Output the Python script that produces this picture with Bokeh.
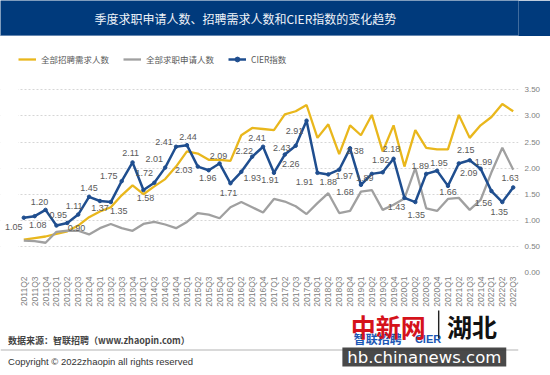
import math
from bokeh.plotting import figure
from bokeh.models import (ColumnDataSource, Range1d, LinearAxis, FixedTicker,
                          NumeralTickFormatter, Legend, LegendItem, BoxAnnotation, Grid)
from bokeh.layouts import column
from bokeh.embed import file_html
from bokeh.resources import INLINE
from bokeh.core.properties import value

# ---------------- data ----------------
TITLE = "季度求职申请人数、招聘需求人数和CIER指数的变化趋势"
SERIES_NAMES = ["全部招聘需求人数", "全部求职申请人数", "CIER指数"]

QUARTERS = [
    "2011Q2", "2011Q3", "2011Q4",
    "2012Q1", "2012Q2", "2012Q3", "2012Q4",
    "2013Q1", "2013Q2", "2013Q3", "2013Q4",
    "2014Q1", "2014Q2", "2014Q3", "2014Q4",
    "2015Q1", "2015Q2", "2015Q3", "2015Q4",
    "2016Q1", "2016Q2", "2016Q3", "2016Q4",
    "2017Q1", "2017Q2", "2017Q3", "2017Q4",
    "2018Q1", "2018Q2", "2018Q3", "2018Q4",
    "2019Q1", "2019Q2", "2019Q3", "2019Q4",
    "2020Q1", "2020Q2", "2020Q3", "2020Q4",
    "2021Q1", "2021Q2", "2021Q3", "2021Q4",
    "2022Q1", "2022Q2", "2022Q3",
]

CIER = [1.05, 1.08, 1.20, 0.90, 0.95, 1.11, 1.45, 1.37, 1.35, 1.75, 2.11, 1.58,
        1.72, 2.01, 2.41, 2.44, 2.03, 1.96, 2.09, 1.71, 1.93, 2.22, 2.41, 1.91,
        2.26, 2.43, 2.91, 1.91, 1.88, 1.97, 2.38, 1.68, 1.89, 1.92, 2.18, 1.43,
        1.35, 1.89, 1.95, 1.66, 2.09, 2.15, 1.99, 1.56, 1.35, 1.63]

DEMAND = [0.63, 0.66, 0.69, 0.74, 0.79, 0.90, 1.06, 1.17, 1.25, 1.48, 1.67, 1.50,
          1.65, 1.79, 2.03, 2.32, 2.28, 2.16, 2.16, 2.14, 2.63, 2.77, 2.75, 2.73,
          3.03, 3.09, 3.21, 2.58, 2.84, 2.27, 2.82, 2.63, 3.02, 2.32, 2.82, 2.03,
          2.73, 2.39, 2.36, 2.36, 3.02, 2.58, 2.82, 2.98, 3.23, 3.09]

APPLY = [0.61, 0.60, 0.57, 0.78, 0.80, 0.80, 0.73, 0.85, 0.93, 0.85, 0.80, 0.93,
         0.97, 0.92, 0.85, 0.97, 1.14, 1.11, 1.04, 1.25, 1.35, 1.25, 1.15, 1.41,
         1.36, 1.27, 1.12, 1.33, 1.52, 1.14, 1.18, 1.55, 1.58, 1.20, 1.30, 1.42,
         2.00, 1.23, 1.18, 1.41, 1.43, 1.20, 1.39, 1.92, 2.39, 1.97]

Y_TICKS = [0.0, 0.5, 1.0, 1.5, 2.0, 2.5, 3.0, 3.5]

SOURCE_NOTE = "数据来源：智联招聘（www.zhaopin.com）"
COPYRIGHT = "Copyright ©  2022zhaopin all rights reserved"

# ---------------- layout / style ----------------
# label nudges (pixels) for the CIER value labels
LABEL_DX = [-10, 3, -6, 20, -9, -4, 0, 0, 8, -13, -2, 2,
            -10, -11, -12, 1, -14, -1, -1, -2, 11, -8, -6, -4,
            6, -14, -12, -13, 0, 5, 5, -16, -7, -2, -2, -8,
            1, -6, 2, 0, 10, -4, 3, -8, -3, -3]
LABEL_DY = [9, 9, -8, 2, -8, -9, -9, 7, 9, -5, -9, 8,
            -10, -9, -5, -8, 3, 8, -7, 10, 6, -6, -9, 7,
            9, 2, 10, 9, 8, 6, 3, 7, 4, -12, -10, 9,
            13, -8, -8, 6, 10, -10, -7, 12, 10, -9]

NAVY = "#003A7C"
YELLOW = "#E9B71C"
GRAY = "#A0A0A0"
BLUE = "#1F4E8F"
CJK = "Noto Sans CJK SC"
LAT = "Liberation Sans"

# ---------------- title bar ----------------
t = figure(width=550, height=36, x_range=Range1d(0, 550), y_range=Range1d(0, 36),
           toolbar_location=None, output_backend="svg", min_border=0,
           x_axis_location=None, y_axis_location=None,
           background_fill_color=NAVY, border_fill_color=NAVY, outline_line_color=None)
t.grid.visible = False
t.quad(left=[0], right=[550], bottom=[0], top=[1], fill_color="#c9d2e2", line_color=None)
t.text(x=[260], y=[18.5], text=[TITLE], text_align="center", text_baseline="middle",
       text_color="#eef2f8", text_font=value(CJK), text_font_size="12px")

# ---------------- main chart ----------------
FOOT_TOP = 309
X_IDX = list(range(len(QUARTERS)))
FRAME_W = 518.0
STEP = (512.7 - 23.3) / (len(QUARTERS) - 1)
X_START = -23.3 / STEP
FRAME_H = 237.0
PX_PER_UNIT = (FRAME_H - 53.6) / 3.5

p = figure(width=550, height=FOOT_TOP - 36,
           x_range=Range1d(X_START, X_START + FRAME_W / STEP),
           y_range=Range1d(0, FRAME_H / PX_PER_UNIT),
           toolbar_location=None, output_backend="svg",
           min_border_left=0, min_border_right=32, min_border_top=0,
           min_border_bottom=FOOT_TOP - 273,
           x_axis_location=None, y_axis_location=None,
           background_fill_color="white", border_fill_color="white", outline_line_color=None)
p.grid.visible = False

p.add_layout(Grid(dimension=1, ticker=FixedTicker(ticks=Y_TICKS[1:]),
                  grid_line_color="#d6d6d6", grid_line_dash="2 2", grid_line_width=1))
p.add_layout(Grid(dimension=1, ticker=FixedTicker(ticks=Y_TICKS[:1]),
                  grid_line_color="#d0d0d0", grid_line_width=1.2))
# blank margin to the left of the first quarter (grid lines start at the first slot)
p.add_layout(BoxAnnotation(right=-0.5, fill_color="white", fill_alpha=1, line_color=None,
                           level="underlay"))

yax = LinearAxis(ticker=FixedTicker(ticks=Y_TICKS), formatter=NumeralTickFormatter(format="0.00"),
                 axis_line_color=None, major_tick_line_color=None, minor_tick_line_color=None,
                 major_tick_out=0, major_tick_in=0, major_label_standoff=6,
                 major_label_text_font=LAT, major_label_text_font_size="8px",
                 major_label_text_color="#808080")
p.add_layout(yax, "right")

xax = LinearAxis(ticker=FixedTicker(ticks=X_IDX),
                 major_label_overrides={i: q for i, q in zip(X_IDX, QUARTERS)},
                 major_label_orientation=math.pi / 2,
                 axis_line_color=None, major_tick_line_color=None, minor_tick_line_color=None,
                 major_tick_out=0, major_tick_in=0, major_label_standoff=4,
                 major_label_text_font=LAT, major_label_text_font_size="8.5px",
                 major_label_text_color="#808080")
p.add_layout(xax, "below")

src = ColumnDataSource(dict(x=X_IDX, q=QUARTERS, cier=CIER, demand=DEMAND, apply=APPLY,
                            lab=[f"{v:.2f}" for v in CIER], dx=LABEL_DX, dy=LABEL_DY))

r_y = p.line("x", "demand", source=src, line_color=YELLOW, line_width=2.3)
r_g = p.line("x", "apply", source=src, line_color=GRAY, line_width=2.3)
r_b = p.line("x", "cier", source=src, line_color=BLUE, line_width=2.5)
r_bc = p.scatter("x", "cier", source=src, size=3.5, fill_color=BLUE, line_color=BLUE)
p.text("x", "cier", text="lab", source=src, x_offset="dx", y_offset="dy",
       text_align="center", text_baseline="middle", text_color="#595959",
       text_font=value(LAT), text_font_size="9px")

legend = Legend(items=[LegendItem(label=SERIES_NAMES[0], renderers=[r_y]),
                       LegendItem(label=SERIES_NAMES[1], renderers=[r_g]),
                       LegendItem(label=SERIES_NAMES[2], renderers=[r_b, r_bc])],
                location=(18, 207), orientation="horizontal", padding=0, margin=0,
                spacing=14, glyph_width=18, glyph_height=12, label_height=12,
                label_standoff=5, label_text_font=CJK, label_text_font_size="8.5px",
                label_text_color="#595959", border_line_color=None, background_fill_alpha=0)
p.add_layout(legend)

# ---------------- footer ----------------
f = figure(width=550, height=375 - FOOT_TOP, x_range=Range1d(0, 550),
           y_range=Range1d(375 - FOOT_TOP, 0),
           toolbar_location=None, output_backend="svg", min_border=0,
           x_axis_location=None, y_axis_location=None,
           background_fill_color="white", border_fill_color="white", outline_line_color=None)
f.grid.visible = False

def fy(cy):
    return cy - FOOT_TOP

f.text(x=[8], y=[fy(340)], text=[SOURCE_NOTE], text_baseline="middle",
       text_font=value(CJK), text_font_size="9px", text_font_style="bold",
       text_color="#444444")
f.quad(left=[0], right=[550], top=[fy(348.5)], bottom=[fy(350.5)],
       fill_color="#d9d9d9", line_color=None)
f.text(x=[8], y=[fy(361)], text=[COPYRIGHT], text_baseline="middle",
       text_font=value(LAT), text_font_size="9.5px", text_color="#333333")

# watermark overlay
f.text(x=[375], y=[fy(338)], text=["智联招聘"], text_baseline="middle",
       text_font=value(CJK), text_font_size="12px", text_font_style="bold",
       text_color="#1b57b5")
f.text(x=[440], y=[fy(338)], text=["CIER"], text_baseline="middle",
       text_font=value(LAT), text_font_size="11px", text_font_style="bold",
       text_color="#1b57b5")
f.text(x=[372], y=[fy(325)], text=["中新网"], text_baseline="middle",
       text_font=value(CJK), text_font_size="25px", text_font_style="bold",
       text_color="#d5121b")
f.quad(left=[464.5], right=[466], top=[fy(310)], bottom=[fy(338)],
       fill_color="#222222", line_color=None)
f.text(x=[474], y=[fy(325)], text=["湖北"], text_baseline="middle",
       text_font=value(CJK), text_font_size="25px", text_font_style="bold",
       text_color="#111111")
f.quad(left=[363], right=[537], top=[fy(347)], bottom=[fy(366)],
       fill_color="#3a3a3a", fill_alpha=0.92, line_color=None)
f.text(x=[450], y=[fy(356.5)], text=["hb.chinanews.com"], text_align="center",
       text_baseline="middle", text_font=value("DejaVu Sans"), text_font_size="16.5px",
       text_color="white")

layout = column(t, p, f, spacing=0)
open("out.html", "w").write(file_html(layout, INLINE))
